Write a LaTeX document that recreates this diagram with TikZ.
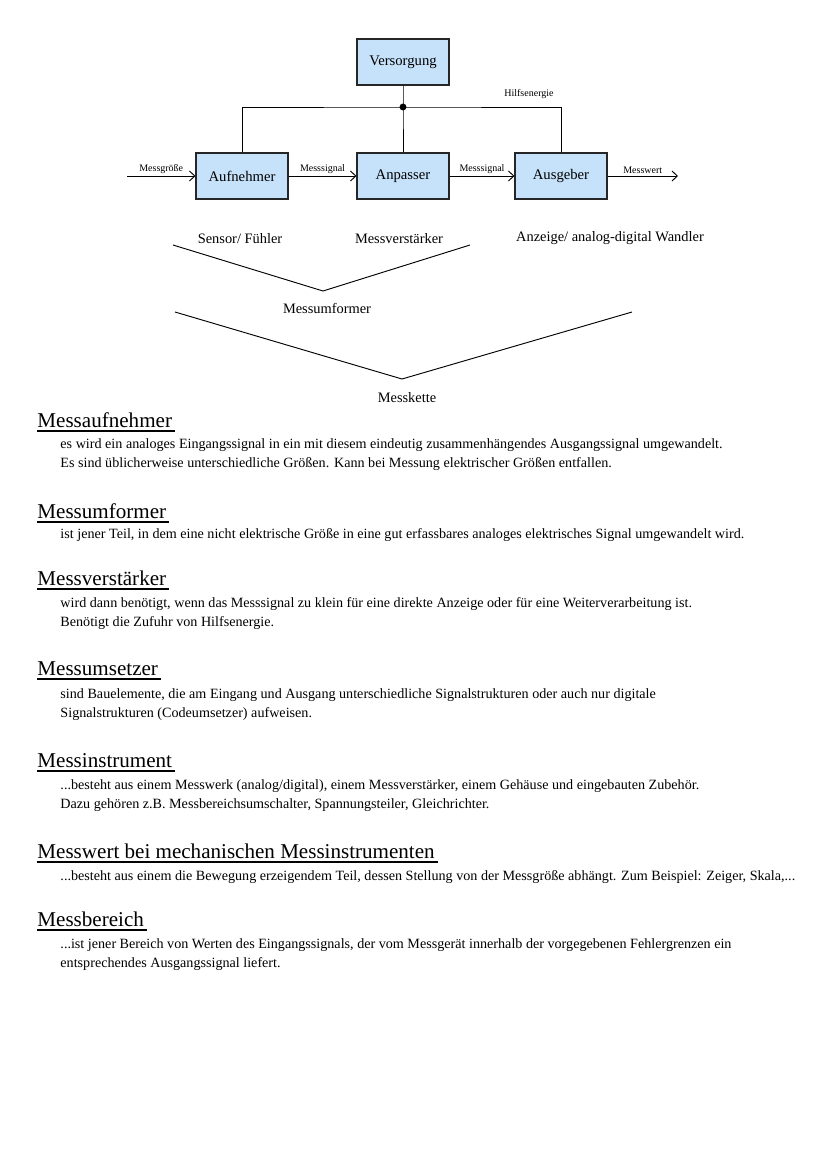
\documentclass[tikz,border=0pt]{standalone}
\usepackage{fontspec}
\setmainfont{Liberation Serif}
\usetikzlibrary{positioning,arrows.meta}
\definecolor{boxblue}{RGB}{198,226,250}
\tikzset{
  block/.style={draw=black!85, fill=boxblue, line width=0.8pt, minimum width=69pt, minimum height=34.5pt, font=\fontsize{11}{12}\selectfont},
  sig/.style={font=\fontsize{7.5}{9}\selectfont, inner sep=1.5pt},
  lbl/.style={font=\fontsize{10.8}{12}\selectfont},
  head/.style={font=\fontsize{15.8}{18}\selectfont, inner sep=0pt, anchor=base west},
  body/.style={font=\fontsize{10.6}{13.8}\selectfont, inner sep=0pt, anchor=base west, align=left},
  unterstrich/.style={line width=0.9pt, shorten >=-2pt},
  pfeil/.style={-{Straight Barb[length=4pt, width=7.5pt]}},
}

\begin{document}
\begin{tikzpicture}[x=0.75pt, y=-0.75pt, line width=0.7pt]
\useasboundingbox[fill=white] (0,0) rectangle (828,1171);

% Messkette
\node[block] (vers) at (403,62) {Versorgung};
\node[block] (aufn) at (242,176) {Aufnehmer};
\node[block] (anp) at (403,176) {Anpasser};
\node[block] (ausg) at (561,176) {Ausgeber};
\coordinate (knoten) at (403,107);
\coordinate (ein) at (127,176);
\coordinate (aus) at (678,176);

\draw (vers) -- (knoten) -- (anp);
\draw (aufn.north) |- (knoten) -| (ausg.north);
\fill (knoten) circle (2.6pt);
\node[sig] (hilfe) at (529,94) {Hilfsenergie};

\draw[pfeil] (ein) -- node[sig, above] {Messgröße} (aufn);
\draw[pfeil] (aufn) -- node[sig, above] {Messsignal} (anp);
\draw[pfeil] (anp) -- node[sig, above] {Messsignal} (ausg);
\draw[pfeil] (ausg) -- node[sig, above] {Messwert} (aus);

\node[lbl] (sensor) at (240,239) {Sensor/ Fühler};
\node[lbl] (verst) at (399,239) {Messverstärker};
\node[lbl] (anz) at (610,238) {Anzeige/ analog-digital Wandler};

\draw (173,245) -- (323,291) -- (470,245);
\node[lbl] (umf) at (327,308) {Messumformer};
\draw (175,312) -- (402,379) -- (632,312);
\node[lbl] (kette) at (407,398) {Messkette};

% Begriffe (bei zwei Zeilen liegt base auf der letzten Zeile)
\node[head] (h1) at (37,427) {Messaufnehmer};
\draw[unterstrich] ([yshift=-3pt]h1.base west) -- ([yshift=-3pt]h1.base east);
\node[body] (t1) at (60,467) {es wird ein analoges Eingangssignal in ein mit diesem eindeutig zusammenhängendes Ausgangssignal umgewandelt.\\Es sind üblicherweise unterschiedliche Größen. Kann bei Messung elektrischer Größen entfallen.};

\node[head] (h2) at (37,518) {Messumformer};
\draw[unterstrich] ([yshift=-3pt]h2.base west) -- ([yshift=-3pt]h2.base east);
\node[body] (t2) at (60,538) {ist jener Teil, in dem eine nicht elektrische Größe in eine gut erfassbares analoges elektrisches Signal umgewandelt wird.};

\node[head] (h3) at (37,585) {Messverstärker};
\draw[unterstrich] ([yshift=-3pt]h3.base west) -- ([yshift=-3pt]h3.base east);
\node[body] (t3) at (60,626) {wird dann benötigt, wenn das Messsignal zu klein für eine direkte Anzeige oder für eine Weiterverarbeitung ist.\\Benötigt die Zufuhr von Hilfsenergie.};

\node[head] (h4) at (37,675) {Messumsetzer};
\draw[unterstrich] ([yshift=-3pt]h4.base west) -- ([yshift=-3pt]h4.base east);
\node[body] (t4) at (60,717) {sind Bauelemente, die am Eingang und Ausgang unterschiedliche Signalstrukturen oder auch nur digitale\\Signalstrukturen (Codeumsetzer) aufweisen.};

\node[head] (h5) at (37,767) {Messinstrument};
\draw[unterstrich] ([yshift=-3pt]h5.base west) -- ([yshift=-3pt]h5.base east);
\node[body] (t5) at (60,808) {...besteht aus einem Messwerk (analog/digital), einem Messverstärker, einem Gehäuse und eingebauten Zubehör.\\Dazu gehören z.B. Messbereichsumschalter, Spannungsteiler, Gleichrichter.};

\node[head] (h6) at (37,858) {Messwert bei mechanischen Messinstrumenten};
\draw[unterstrich] ([yshift=-3pt]h6.base west) -- ([yshift=-3pt]h6.base east);
\node[body] (t6) at (60,880) {...besteht aus einem die Bewegung erzeigendem Teil, dessen Stellung von der Messgröße abhängt. Zum Beispiel: Zeiger, Skala,...};

\node[head] (h7) at (37,926) {Messbereich};
\draw[unterstrich] ([yshift=-3pt]h7.base west) -- ([yshift=-3pt]h7.base east);
\node[body] (t7) at (60,967) {...ist jener Bereich von Werten des Eingangssignals, der vom Messgerät innerhalb der vorgegebenen Fehlergrenzen ein\\entsprechendes Ausgangssignal liefert.};
\end{tikzpicture}
\end{document}
